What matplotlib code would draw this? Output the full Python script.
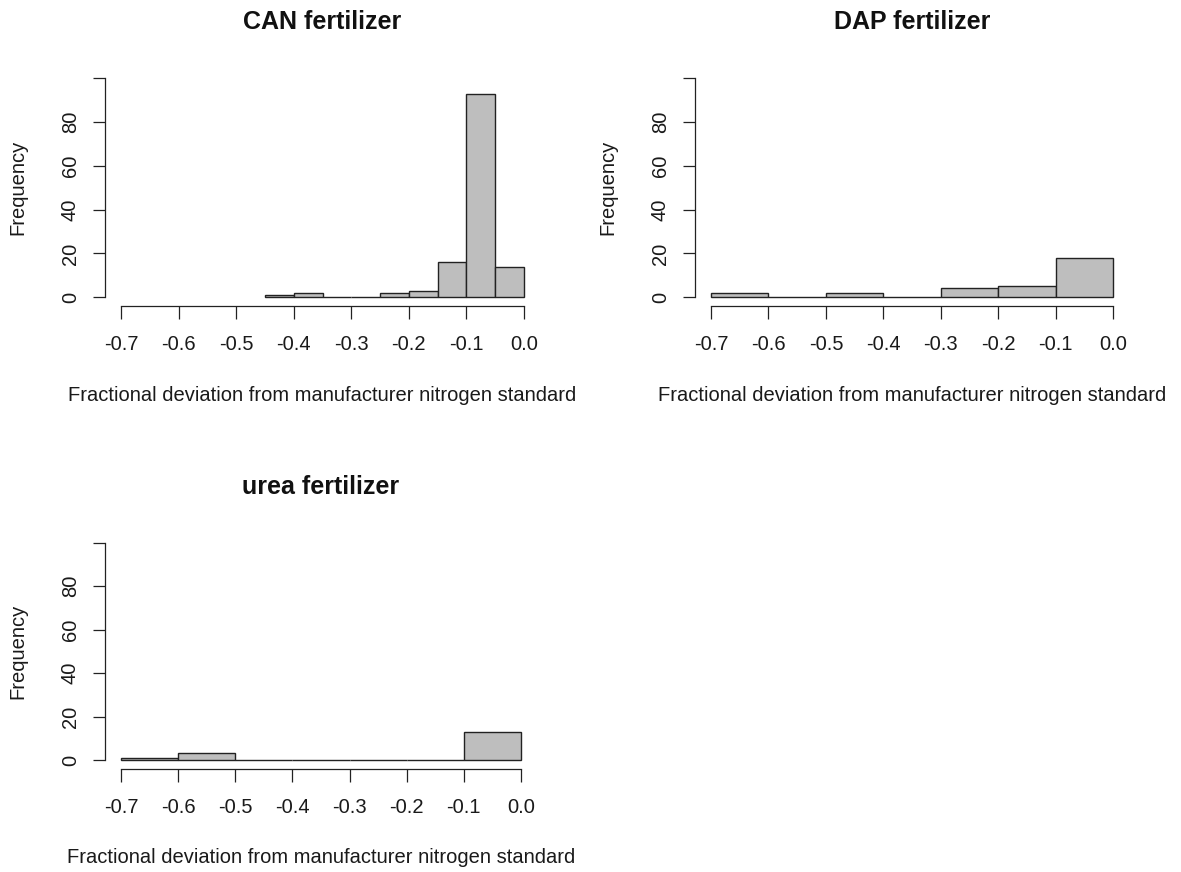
import matplotlib
matplotlib.use("Agg")
import matplotlib.pyplot as plt

plt.rcParams['font.family'] = ['Liberation Sans', 'DejaVu Sans']

# histogram data (left bin edges and counts)
can_edges = [-0.45, -0.40, -0.35, -0.30, -0.25, -0.20, -0.15, -0.10, -0.05]
can_counts = [1, 2, 0, 0, 2, 3, 16, 93, 14]
can_width = 0.05

dap_edges = [-0.7, -0.6, -0.5, -0.4, -0.3, -0.2, -0.1]
dap_counts = [2, 0, 2, 0, 4, 5, 18]
dap_width = 0.1

urea_edges = [-0.7, -0.6, -0.5, -0.4, -0.3, -0.2, -0.1]
urea_counts = [1, 3, 0, 0, 0, 0, 13]
urea_width = 0.1

x_ticks = [-0.7, -0.6, -0.5, -0.4, -0.3, -0.2, -0.1, 0.0]
y_ticks = [0, 20, 40, 60, 80, 100]
y_labels = ['0', '20', '40', '60', '80', '']

xlabel = "Fractional deviation from manufacturer nitrogen standard"

W, H = 1181, 872
fig = plt.figure(figsize=(W / 100, H / 100), dpi=100)


def px_axes(left, right, top, bottom):
    return fig.add_axes([left / W, 1 - bottom / H, (right - left) / W, (bottom - top) / H])


def r_hist(ax, edges, counts, width, title):
    ax.bar(edges, counts, width=width, align='edge', color='#bebebe',
           edgecolor='#222222', linewidth=1.0)
    ax.set_xlim(-0.728, 0.028)
    ax.set_ylim(-4, 104)
    for s in ['top', 'right']:
        ax.spines[s].set_visible(False)
    ax.spines['left'].set_bounds(0, 100)
    ax.spines['bottom'].set_bounds(-0.7, 0.0)
    for s in ['left', 'bottom']:
        ax.spines[s].set_linewidth(0.9)
        ax.spines[s].set_color('#222222')
    ax.set_xticks(x_ticks)
    ax.set_xticklabels([f"{t:.1f}" for t in x_ticks])
    ax.set_yticks(y_ticks)
    ax.set_yticklabels(y_labels)
    ax.tick_params(axis='both', length=9, width=0.9, color='#222222',
                   labelsize=14.5, labelcolor='#1a1a1a')
    ax.tick_params(axis='x', pad=12)
    ax.tick_params(axis='y', pad=9, labelrotation=90)
    for lab in ax.get_yticklabels():
        lab.set_va('center')
    h_px = ax.get_position().height * H
    w_px = ax.get_position().width * W
    ax.set_xlabel(xlabel, fontsize=14.5, color='#1a1a1a', va='center')
    ax.xaxis.set_label_coords(0.5, -89 / h_px)
    ax.set_ylabel("Frequency", fontsize=14.5, color='#1a1a1a', va='center')
    ax.yaxis.set_label_coords(-87 / w_px, 0.5)
    ax.text(0.5, 1 + 47 / h_px, title, transform=ax.transAxes, ha='center',
            va='center', fontsize=18, fontweight='bold', color='#111111')


ax1 = px_axes(105, 540, 69.5, 306)
r_hist(ax1, can_edges, can_counts, can_width, "CAN fertilizer")

ax2 = px_axes(695, 1129, 69.5, 306)
r_hist(ax2, dap_edges, dap_counts, dap_width, "DAP fertilizer")

ax3 = px_axes(105, 537, 534, 768.7)
r_hist(ax3, urea_edges, urea_counts, urea_width, "urea fertilizer")

fig.savefig("out.png", dpi=100, facecolor='white')
